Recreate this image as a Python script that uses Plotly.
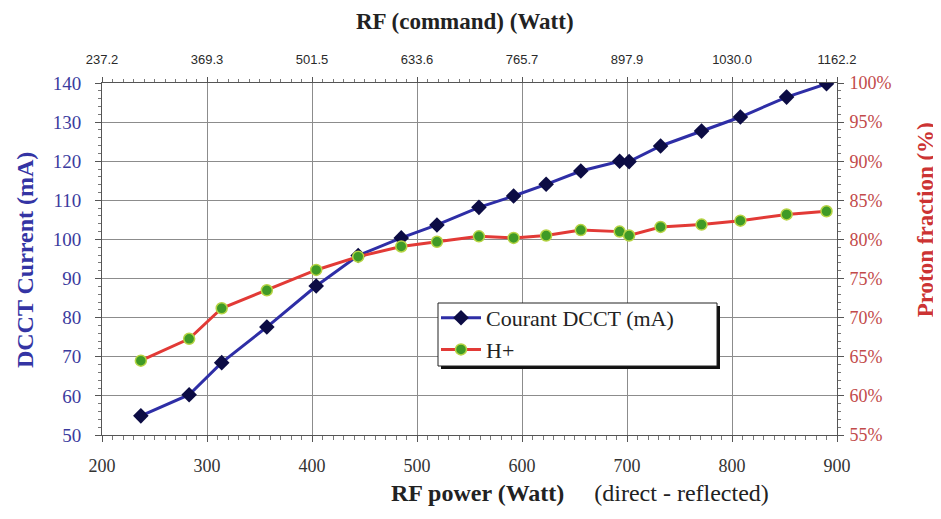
import plotly.graph_objects as go

# ---- data ----
rf_power_w = [237, 283, 314, 357, 404, 444, 485, 519, 559, 592, 623, 656,
              693, 702, 732, 771, 808, 852, 890]
dcct_ma = [54.9, 60.3, 68.5, 77.6, 88.1, 95.9, 100.4, 103.7, 108.2, 111.1,
           114.1, 117.5, 120.0, 119.9, 123.9, 127.7, 131.3, 136.4, 139.8]
h_plus_pct = [64.5, 67.3, 71.2, 73.5, 76.1, 77.8, 79.1, 79.7, 80.4, 80.2,
              80.5, 81.2, 81.0, 80.5, 81.6, 81.9, 82.4, 83.2, 83.6]

bottom_tickvals = [200, 300, 400, 500, 600, 700, 800, 900]
top_ticktext = ["237.2", "369.3", "501.5", "633.6", "765.7", "897.9",
                "1030.0", "1162.2"]

SERIF = "Liberation Serif, Times New Roman, serif"
SANS = "Liberation Sans, Arial, sans-serif"
BLUE_TXT = "#3b3b9e"
RED_TXT = "#c24a4a"

# page body has an 8px margin, so the figure is sized to fill the window
W, H = 933, 511
ML, MR, MT, MB = 94, 104, 75, 84
PW, PH = W - ML - MR, H - MT - MB


def px_x(v):  # figure-pixel -> paper x
    return (v - ML) / PW


def px_y(v):  # figure-pixel -> paper y
    return (H - MB - v) / PH


fig = go.Figure()

fig.add_trace(go.Scatter(
    x=rf_power_w, y=dcct_ma, name="Courant DCCT (mA)",
    mode="lines+markers", xaxis="x", yaxis="y",
    line=dict(color="#2e2ea6", width=3),
    marker=dict(symbol="diamond", size=12, color="#0c0c44",
                line=dict(color="#0c0c44", width=0)),
))
fig.add_trace(go.Scatter(
    x=rf_power_w, y=h_plus_pct, name="H+",
    mode="lines+markers", xaxis="x", yaxis="y2",
    line=dict(color="#e23a36", width=3),
    marker=dict(symbol="circle", size=11, color="#3f9a26",
                line=dict(color="#b6d444", width=1.5)),
))
# invisible trace that carries the top (command) axis
fig.add_trace(go.Scatter(
    x=rf_power_w, y=dcct_ma, xaxis="x2", yaxis="y",
    mode="markers", marker=dict(opacity=0), showlegend=False,
    hoverinfo="skip",
))

axis_line = dict(showline=True, linecolor="#555555", linewidth=1)

# legend box (figure pixels)
LB_L, LB_T, LB_R, LB_B = 430, 295, 709, 358

fig.update_layout(
    width=W, height=H,
    margin=dict(l=ML, r=MR, t=MT, b=MB),
    paper_bgcolor="white", plot_bgcolor="white",
    showlegend=True,
    xaxis=dict(
        range=[200, 900], tickmode="array", tickvals=bottom_tickvals,
        showgrid=True, gridcolor="#8c8c8c", gridwidth=1,
        ticks="outside", ticklen=6, tickcolor="#555555",
        minor=dict(ticks="outside", ticklen=4, tick0=200, dtick=10,
                   tickcolor="#777777", showgrid=False),
        tickfont=dict(family=SERIF, size=18, color="#333333"),
        ticklabelstandoff=8, zeroline=False, **axis_line,
    ),
    xaxis2=dict(
        overlaying="x", side="top", range=[200, 900],
        tickmode="array", tickvals=bottom_tickvals, ticktext=top_ticktext,
        showgrid=False, ticks="outside", ticklen=5, tickcolor="#555555",
        minor=dict(ticks="outside", ticklen=3, tick0=200, dtick=10,
                   tickcolor="#777777"),
        tickfont=dict(family=SANS, size=13, color="#2a2a2a"),
        ticklabelstandoff=8, zeroline=False, **axis_line,
    ),
    yaxis=dict(
        range=[50, 140], dtick=10, tick0=50,
        showgrid=True, gridcolor="#8c8c8c", gridwidth=1,
        ticks="outside", ticklen=6, tickcolor="#555555",
        minor=dict(ticks="outside", ticklen=3, dtick=2,
                   tickcolor="#777777", showgrid=False),
        tickfont=dict(family=SERIF, size=19, color=BLUE_TXT),
        ticklabelstandoff=10, zeroline=False, **axis_line,
    ),
    yaxis2=dict(
        overlaying="y", side="right", range=[55, 100], dtick=5, tick0=55,
        ticksuffix="%", showgrid=False,
        ticks="outside", ticklen=6, tickcolor="#555555",
        minor=dict(ticks="outside", ticklen=3, dtick=1,
                   tickcolor="#777777"),
        tickfont=dict(family=SERIF, size=18, color=RED_TXT),
        ticklabelstandoff=2, zeroline=False, **axis_line,
    ),
    legend=dict(
        x=px_x(LB_L - 2), y=px_y(LB_T - 6), xanchor="left", yanchor="top",
        bgcolor="rgba(0,0,0,0)", borderwidth=0,
        font=dict(family=SERIF, size=22, color="#222222"),
        tracegroupgap=0, itemwidth=40,
    ),
    annotations=[
        dict(text="<b>RF (command) (Watt)</b>", xref="paper", yref="paper",
             x=0.494, y=1.0, yshift=62, xanchor="center", yanchor="middle",
             showarrow=False, font=dict(family=SERIF, size=23, color="#222222")),
        dict(text="<b>RF power (Watt)</b>     (direct - reflected)",
             xref="paper", yref="paper", x=0.650, y=0.0, yshift=-58,
             xanchor="center", yanchor="middle", showarrow=False,
             font=dict(family=SERIF, size=24, color="#222222")),
        dict(text="<b>DCCT Current (mA)</b>", xref="paper", yref="paper",
             x=0.0, xshift=-77, y=0.497, textangle=-90,
             xanchor="center", yanchor="middle", showarrow=False,
             font=dict(family=SERIF, size=24, color="#3434a4")),
        dict(text="<b>Proton fraction (%)</b>", xref="paper", yref="paper",
             x=1.0, xshift=88, y=0.61, textangle=-90,
             xanchor="center", yanchor="middle", showarrow=False,
             font=dict(family=SERIF, size=23, color="#cc3333")),
    ],
    shapes=[
        dict(type="rect", xref="paper", yref="paper",
             x0=px_x(LB_L + 3), x1=px_x(LB_R + 3),
             y0=px_y(LB_B + 3), y1=px_y(LB_T + 3),
             fillcolor="#111111", line=dict(width=0), layer="above"),
        dict(type="rect", xref="paper", yref="paper",
             x0=px_x(LB_L), x1=px_x(LB_R),
             y0=px_y(LB_B), y1=px_y(LB_T),
             fillcolor="white", line=dict(color="#222222", width=1),
             layer="above"),
    ],
)

fig.write_html("out.html")
